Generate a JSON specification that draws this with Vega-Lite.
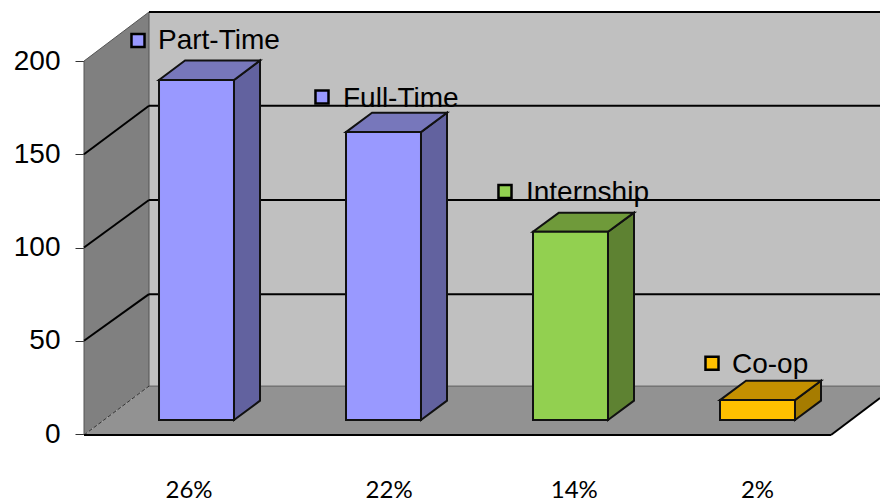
{"$schema":"https://vega.github.io/schema/vega-lite/v6.json","width":796,"height":492,"autosize":{"type":"none"},"padding":{"left":84,"top":12,"right":0,"bottom":0},"background":"#ffffff","view":{"stroke":null},
"datasets":{
"back":[{"x":0.746,"x2":4.6551,"y":25.7,"y2":226.3}],
"left":[{"x":0.3984,"y":-0.5,"y2":200},{"x":0.746,"y":25.7,"y2":226.3}],
"floor":[{"y":-0.5,"x":0.3984,"x2":4.393},{"y":25.7,"x":0.746,"x2":4.7406}],
"grid":[
{"x":0.3984,"y":50,"x2":0.746,"y2":75},{"x":0.746,"y":75,"x2":4.6551,"y2":75},
{"x":0.3984,"y":100,"x2":0.746,"y2":125.5},{"x":0.746,"y":125.5,"x2":4.6551,"y2":125.5},
{"x":0.3984,"y":150,"x2":0.746,"y2":176},{"x":0.746,"y":176,"x2":4.6551,"y2":176},
{"x":0.746,"y":226.3,"x2":4.6551,"y2":226.3},
{"x":0.3984,"y":-0.5,"x2":4.393,"y2":-0.5},
{"x":4.393,"y":-0.5,"x2":4.6551,"y2":19.3}],
"frame":[{"x":0.3984,"y":-0.5,"x2":0.3984,"y2":200},{"x":0.3984,"y":200,"x2":0.746,"y2":226.3},{"x":0.746,"y":25.7,"x2":0.746,"y2":226.3},{"x":0.746,"y":25.7,"x2":4.6551,"y2":25.7}],
"dash":[{"x":0.3984,"y":-0.5,"x2":0.746,"y2":25.7}],
"sides":[
{"bar":"Part-Time","x":1.2005,"y":7.5,"y2":189.8},{"bar":"Part-Time","x":1.3396,"y":17.9,"y2":200.3},
{"bar":"Full-Time","x":2.2005,"y":7.5,"y2":161.9},{"bar":"Full-Time","x":2.3396,"y":17.9,"y2":172.3},
{"bar":"Internship","x":3.2005,"y":7.5,"y2":108.5},{"bar":"Internship","x":3.3396,"y":17.9,"y2":118.7},
{"bar":"Co-op","x":4.2005,"y":7.5,"y2":18.2},{"bar":"Co-op","x":4.3396,"y":17.9,"y2":28.6}],
"tops":[
{"bar":"Part-Time","y":189.8,"x":0.7995,"x2":1.2005},{"bar":"Part-Time","y":200.3,"x":0.9386,"x2":1.3396},
{"bar":"Full-Time","y":161.9,"x":1.7995,"x2":2.2005},{"bar":"Full-Time","y":172.3,"x":1.9386,"x2":2.3396},
{"bar":"Internship","y":108.5,"x":2.7995,"x2":3.2005},{"bar":"Internship","y":118.7,"x":2.9386,"x2":3.3396},
{"bar":"Co-op","y":18.2,"x":3.7995,"x2":4.2005},{"bar":"Co-op","y":28.6,"x":3.9386,"x2":4.3396}],
"bars":[
{"bar":"Part-Time","x":0.7995,"x2":1.2005,"y":7.5,"y2":189.8},
{"bar":"Full-Time","x":1.7995,"x2":2.2005,"y":7.5,"y2":161.9},
{"bar":"Internship","x":2.7995,"x2":3.2005,"y":7.5,"y2":108.5},
{"bar":"Co-op","x":3.7995,"x2":4.2005,"y":7.5,"y2":18.2}],
"keys":[
{"bar":"Part-Time","label":"Part-Time","x":0.6872,"y":211,"lx":0.7941,"ly":210.5},
{"bar":"Full-Time","label":"Full-Time","x":1.6711,"y":180.7,"lx":1.7834,"ly":179.8},
{"bar":"Internship","label":"Internship","x":2.6497,"y":130,"lx":2.762,"ly":129},
{"bar":"Co-op","label":"Co-op","x":3.7567,"y":38,"lx":3.8636,"ly":37}],
"pct":[{"label":"26%","x":0.96,"y":-30.5},{"label":"22%","x":2.03,"y":-30.5},{"label":"14%","x":3.02,"y":-30.5},{"label":"2%","x":4.0,"y":-30.5}]
},
"encoding":{
"x":{"field":"x","type":"quantitative","scale":{"domain":[0.3984,4.6551],"nice":false,"zero":false},"axis":null},
"y":{"field":"y","type":"quantitative","scale":{"domain":[-37.5,226.3],"nice":false,"zero":false},"axis":{"values":[0,50,100,150,200],"title":null,"domain":false,"grid":false,"tickSize":9,"tickColor":"#333333","tickWidth":1,"labelFont":"Liberation Sans","labelFontSize":28,"labelColor":"#000000","labelPadding":15}}
},
"resolve":{"scale":{"fill":"independent"}},
"layer":[
{"data":{"name":"back"},"mark":{"type":"rect","fill":"#c0c0c0"},"encoding":{"x2":{"field":"x2"},"y2":{"field":"y2"}}},
{"data":{"name":"left"},"mark":{"type":"area","fill":"#808080","orient":"vertical"},"encoding":{"y2":{"field":"y2"}}},
{"data":{"name":"floor"},"mark":{"type":"area","fill":"#929292","orient":"horizontal","clip":true},"encoding":{"x2":{"field":"x2"}}},
{"data":{"name":"frame"},"mark":{"type":"rule","stroke":"#555555","strokeWidth":1},"encoding":{"x2":{"field":"x2"},"y2":{"field":"y2"}}},
{"data":{"name":"dash"},"mark":{"type":"rule","stroke":"#333333","strokeWidth":1,"strokeDash":[4,2]},"encoding":{"x2":{"field":"x2"},"y2":{"field":"y2"}}},
{"data":{"name":"grid"},"mark":{"type":"rule","stroke":"#000000","strokeWidth":2},"encoding":{"x2":{"field":"x2"},"y2":{"field":"y2"}}},
{"data":{"name":"sides"},"mark":{"type":"area","orient":"vertical","stroke":"#111111","strokeWidth":2},"encoding":{"y2":{"field":"y2"},"detail":{"field":"bar"},"fill":{"field":"bar","type":"nominal","legend":null,"scale":{"domain":["Part-Time","Full-Time","Internship","Co-op"],"range":["#62629f","#62629f","#5e8232","#a67c00"]}}}},
{"data":{"name":"tops"},"mark":{"type":"area","orient":"horizontal","stroke":"#111111","strokeWidth":2},"encoding":{"x2":{"field":"x2"},"detail":{"field":"bar"},"fill":{"field":"bar","type":"nominal","legend":null,"scale":{"domain":["Part-Time","Full-Time","Internship","Co-op"],"range":["#7777bb","#7777bb","#6f9a3a","#c49000"]}}}},
{"data":{"name":"bars"},"mark":{"type":"rect","stroke":"#111111","strokeWidth":2},"encoding":{"x2":{"field":"x2"},"y2":{"field":"y2"},"fill":{"field":"bar","type":"nominal","legend":null,"scale":{"domain":["Part-Time","Full-Time","Internship","Co-op"],"range":["#9999ff","#9999ff","#92d050","#ffc000"]}}}},
{"data":{"name":"keys"},"mark":{"type":"square","size":170,"stroke":"#000000","strokeWidth":2.5,"filled":true,"opacity":1},"encoding":{"fill":{"field":"bar","type":"nominal","legend":null,"scale":{"domain":["Part-Time","Full-Time","Internship","Co-op"],"range":["#9999ff","#9999ff","#92d050","#ffc000"]}}}},
{"data":{"name":"keys"},"mark":{"type":"text","align":"left","baseline":"middle","font":"Liberation Sans","fontSize":28,"fill":"#000000"},"encoding":{"x":{"field":"lx","type":"quantitative"},"y":{"field":"ly","type":"quantitative"},"text":{"field":"label"}}},
{"data":{"name":"pct"},"mark":{"type":"text","align":"center","baseline":"middle","font":"Lato","fontSize":24,"fill":"#000000"},"encoding":{"text":{"field":"label"}}}
]}
